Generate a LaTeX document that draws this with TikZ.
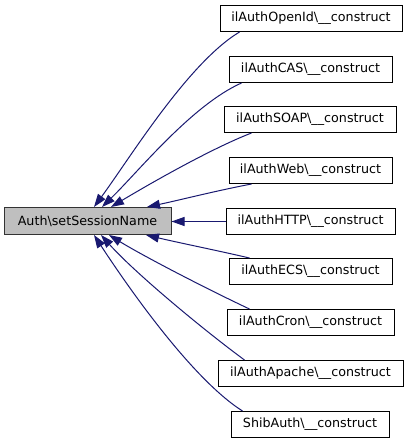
\documentclass[tikz,border=0pt]{standalone}
\usepackage{fontspec}
\setmainfont{DejaVu Sans}
\usetikzlibrary{arrows.meta}
\definecolor{edgeblue}{HTML}{191970}
\definecolor{maingrey}{HTML}{BFBFBF}
\tikzset{
  box/.style={draw=black, line width=1pt, fill=white, minimum height=26pt, inner sep=0pt, font=\fontsize{12.7}{15}\selectfont},
  mainbox/.style={box, fill=maingrey, draw=black!80, minimum height=27pt},
  edge/.style={draw=edgeblue, line width=1pt, -{Triangle[length=13pt,width=9pt]}}
}
\newcommand{\bs}{\textbackslash}
\begin{document}
\begin{tikzpicture}[x=1pt,y=-1pt]
\useasboundingbox (0,0) rectangle (408,443);
\node[mainbox, minimum width=167pt] (main) at (87.5,221) {Auth\bs setSessionName};
\node[box, minimum width=182pt] (n1) at (311,18.5) {ilAuthOpenId\bs\_\_construct};
\node[box, minimum width=163pt] (n2) at (310.5,69.5) {ilAuthCAS\bs\_\_construct};
\node[box, minimum width=172pt] (n3) at (310,119.5) {ilAuthSOAP\bs\_\_construct};
\node[box, minimum width=163pt] (n4) at (310.5,170.5) {ilAuthWeb\bs\_\_construct};
\node[box, minimum width=169pt] (n5) at (310.5,221.5) {ilAuthHTTP\bs\_\_construct};
\node[box, minimum width=163pt] (n6) at (310.5,271.5) {ilAuthECS\bs\_\_construct};
\node[box, minimum width=167pt] (n7) at (310.5,322.5) {ilAuthCron\bs\_\_construct};
\node[box, minimum width=185pt] (n8) at (310.5,373.5) {ilAuthApache\bs\_\_construct};
\node[box, minimum width=158pt] (n9) at (310,424.5) {ShibAuth\bs\_\_construct};

\draw[edge] ([xshift=20pt]n1.south west) .. controls (188,63) and (130,158) .. ([xshift=90.5pt]main.north west);
\draw[edge] ([xshift=13pt]n2.south west) .. controls (192,105) and (138,172) .. ([xshift=98.5pt]main.north west);
\draw[edge] ([xshift=28pt]n3.south west) .. controls (210,149) and (146,186) .. ([xshift=107.5pt]main.north west);
\draw[edge] ([xshift=23pt]n4.south west) .. controls (215,191) and (180,200) .. ([xshift=143.5pt]main.north west);
\draw[edge] (n5.west) -- (main.east |- n5.west);
\draw[edge] ([xshift=21pt]n6.north west) .. controls (215,250) and (180,243) .. ([xshift=142.5pt]main.south west);
\draw[edge] ([xshift=23pt]n7.north west) .. controls (209,290) and (145,257) .. ([xshift=105.5pt]main.south west);
\draw[edge] ([xshift=27pt]n8.north west) .. controls (205,331) and (136,274) .. ([xshift=97.5pt]main.south west);
\draw[edge] ([xshift=12pt]n9.north west) .. controls (192,379) and (128,287) .. ([xshift=90.5pt]main.south west);
\end{tikzpicture}
\end{document}
